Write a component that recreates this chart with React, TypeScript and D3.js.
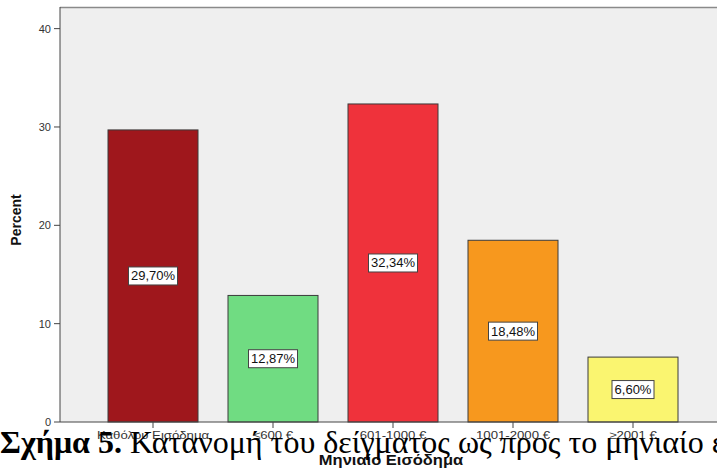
import React from "react";
import * as d3 from "d3";

// Monthly income distribution (percent of sample)
const categories = ["Καθόλου Εισόδημα", "≤600 €", "601-1000 €", "1001-2000 €", "≥2001 €"];
const percents = [29.7, 12.87, 32.34, 18.48, 6.6];
const barColors = ["#9F171C", "#70DC82", "#EF323B", "#F7981E", "#FAF570"];
const yTicks = [0, 10, 20, 30, 40];

const W = 717;
const H = 469;
const plot = { left: 60, right: 726, top: 7, bottom: 422 };

const fmt = (v: number) => v.toFixed(2).replace(".", ",") + "%";

export default function App() {
  const x = d3
    .scaleBand<string>()
    .domain(categories)
    .range([plot.left, plot.right])
    .paddingInner(0.25)
    .paddingOuter(0.4);
  const y = d3.scaleLinear().domain([0, 42.2]).range([plot.bottom, plot.top]);

  const sans = "Arial, 'Liberation Sans', sans-serif";
  const stretch = 1.2;

  return (
    <div style={{ position: "absolute", left: 0, top: 0 }}>
      <svg width={W} height={H} style={{ display: "block", background: "#fff" }}>
        {/* plot background */}
        <rect x={plot.left} y={plot.top} width={plot.right - plot.left} height={plot.bottom - plot.top} fill="#EFEFEF" />
        <line x1={plot.left} x2={plot.right} y1={plot.top + 0.5} y2={plot.top + 0.5} stroke="#8A8A8A" strokeWidth={1.5} />

        {/* bars */}
        {categories.map((c, i) => {
          const x0 = x(c)!;
          const y0 = y(percents[i]);
          return (
            <rect
              key={c}
              x={x0}
              y={y0}
              width={x.bandwidth()}
              height={y(0) - y0}
              fill={barColors[i]}
              stroke="#3A3A3A"
              strokeWidth={1}
            />
          );
        })}

        {/* value labels */}
        {categories.map((c, i) => {
          const cx = x(c)! + x.bandwidth() / 2;
          const cy = (y(percents[i]) + y(0)) / 2;
          const w = percents[i] >= 10 ? 49 : 42;
          return (
            <g key={"l" + c}>
              <rect x={cx - w / 2} y={cy - 9} width={w} height={18} fill="#fff" stroke="#444" strokeWidth={1} />
              <text x={cx} y={cy + 4.5} textAnchor="middle" fontFamily={sans} fontSize={13} fill="#111">
                {fmt(percents[i])}
              </text>
            </g>
          );
        })}

        {/* y axis */}
        <line x1={plot.left} x2={plot.left} y1={plot.top} y2={plot.bottom} stroke="#444" strokeWidth={1} />
        {yTicks.map((t) => (
          <g key={t}>
            <line x1={plot.left - 6} x2={plot.left} y1={y(t)} y2={y(t)} stroke="#444" />
            <text x={plot.left - 9} y={y(t) + 4} textAnchor="end" fontFamily={sans} fontSize={11} fill="#333">
              {t}
            </text>
          </g>
        ))}
        <text
          transform={`translate(21,220) rotate(-90)`}
          textAnchor="middle"
          fontFamily={sans}
          fontSize={14}
          fontWeight="bold"
          fill="#111"
        >
          Percent
        </text>

        {/* x axis */}
        <line x1={plot.left} x2={plot.right} y1={plot.bottom} y2={plot.bottom} stroke="#444" strokeWidth={1} />
        {categories.map((c) => {
          const cx = x(c)! + x.bandwidth() / 2;
          return (
            <g key={"t" + c}>
              <line x1={cx} x2={cx} y1={plot.bottom} y2={plot.bottom + 6} stroke="#444" />
              <text
                transform={`translate(${cx},${plot.bottom + 17}) scale(${stretch},1)`}
                textAnchor="middle"
                fontFamily={sans}
                fontSize={11}
                fill="#333"
              >
                {c}
              </text>
            </g>
          );
        })}
        <text
          transform={`translate(391,465) scale(1.18,1)`}
          textAnchor="middle"
          fontFamily={sans}
          fontSize={14}
          fontWeight="bold"
          fill="#111"
        >
          Μηνιαίο Εισόδημα
        </text>

        {/* figure caption */}
        <text x={0} y={453} fontFamily="'Liberation Serif', 'Times New Roman', serif" fontSize={32} fill="#000">
          <tspan fontWeight="bold">Σχήμα 5.</tspan> Κατανομή του δείγματος ως προς το μηνιαίο εισόδημα
        </text>
      </svg>
    </div>
  );
}
